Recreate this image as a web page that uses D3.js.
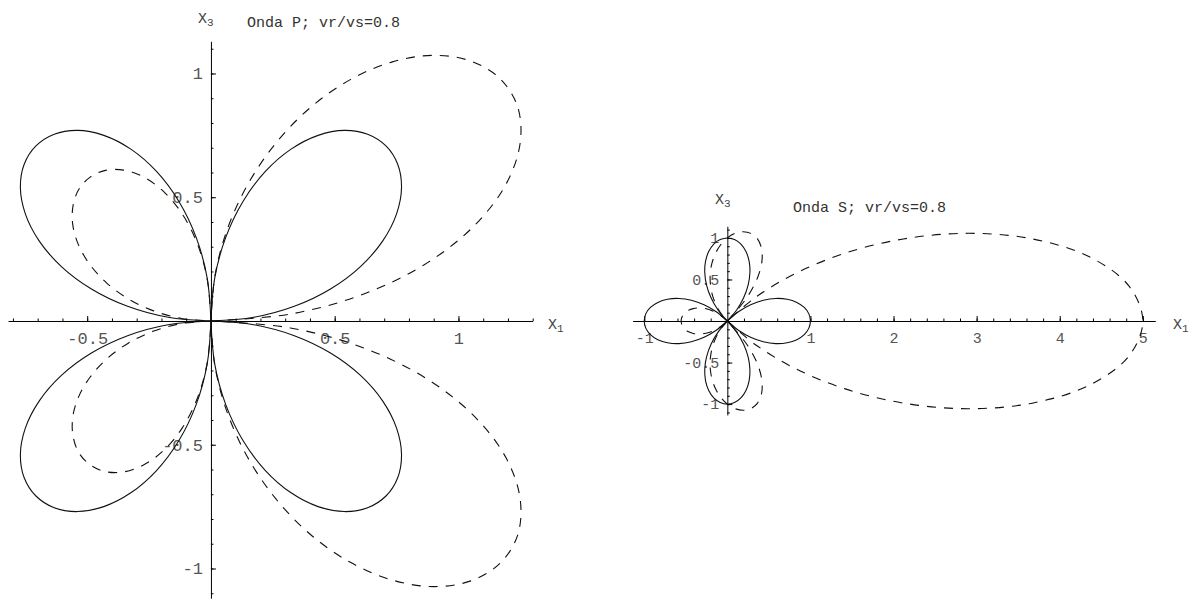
<!DOCTYPE html>
<html>
<head>
<meta charset="utf-8">
<script src="https://cdn.jsdelivr.net/npm/d3@7"></script>
<style>
  html, body { margin: 0; padding: 0; background: #fff; }
  svg { display: block; }
</style>
</head>
<body>
<svg id="chart" width="1199" height="599"></svg>
<script>
// Sampling angles (degrees, measured from +X1 towards +X3)
const angles = [
  0, 5, 10, 15, 20, 25, 30, 35, 40, 45, 50, 55, 60, 65, 70, 75, 80, 85,
  90, 95, 100, 105, 110, 115, 120, 125, 130, 135, 140, 145, 150, 155, 160, 165, 170, 175,
  180, 185, 190, 195, 200, 205, 210, 215, 220, 225, 230, 235, 240, 245, 250, 255, 260, 265,
  270, 275, 280, 285, 290, 295, 300, 305, 310, 315, 320, 325, 330, 335, 340, 345, 350, 355
];

// P wave: static radiation pattern (solid) and pattern with rupture directivity (dashed)
const pStatic = [
  0, 0.174, 0.342, 0.5, 0.643, 0.766, 0.866, 0.940, 0.985, 1, 0.985, 0.940, 0.866, 0.766, 0.643, 0.5, 0.342, 0.174,
  0, 0.174, 0.342, 0.5, 0.643, 0.766, 0.866, 0.940, 0.985, 1, 0.985, 0.940, 0.866, 0.766, 0.643, 0.5, 0.342, 0.174,
  0, 0.174, 0.342, 0.5, 0.643, 0.766, 0.866, 0.940, 0.985, 1, 0.985, 0.940, 0.866, 0.766, 0.643, 0.5, 0.342, 0.174,
  0, 0.174, 0.342, 0.5, 0.643, 0.766, 0.866, 0.940, 0.985, 1, 0.985, 0.940, 0.866, 0.766, 0.643, 0.5, 0.342, 0.174
];
const pMoving = [
  0, 0.322, 0.627, 0.903, 1.136, 1.318, 1.443, 1.512, 1.524, 1.485, 1.401, 1.278, 1.126, 0.952, 0.763, 0.568, 0.372, 0.181,
  0, 0.167, 0.317, 0.447, 0.555, 0.641, 0.704, 0.743, 0.759, 0.754, 0.727, 0.682, 0.619, 0.540, 0.448, 0.346, 0.235, 0.119,
  0, 0.119, 0.235, 0.346, 0.448, 0.540, 0.619, 0.682, 0.727, 0.754, 0.759, 0.743, 0.704, 0.641, 0.555, 0.447, 0.317, 0.167,
  0, 0.181, 0.372, 0.568, 0.763, 0.952, 1.126, 1.278, 1.401, 1.485, 1.524, 1.512, 1.443, 1.318, 1.136, 0.903, 0.627, 0.322
];

// S wave: static radiation pattern (solid) and pattern with rupture directivity (dashed)
const sStatic = [
  1, 0.985, 0.940, 0.866, 0.766, 0.643, 0.5, 0.342, 0.174, 0, 0.174, 0.342, 0.5, 0.643, 0.766, 0.866, 0.940, 0.985,
  1, 0.985, 0.940, 0.866, 0.766, 0.643, 0.5, 0.342, 0.174, 0, 0.174, 0.342, 0.5, 0.643, 0.766, 0.866, 0.940, 0.985,
  1, 0.985, 0.940, 0.866, 0.766, 0.643, 0.5, 0.342, 0.174, 0, 0.174, 0.342, 0.5, 0.643, 0.766, 0.866, 0.940, 0.985,
  1, 0.985, 0.940, 0.866, 0.766, 0.643, 0.5, 0.342, 0.174, 0, 0.174, 0.342, 0.5, 0.643, 0.766, 0.866, 0.940, 0.985
];
const sMoving = [
  5.000, 4.850, 4.430, 3.811, 3.086, 2.338, 1.628, 0.992, 0.448, 0, 0.357, 0.632, 0.833, 0.971, 1.055, 1.092, 1.091, 1.059,
  1.000, 0.921, 0.825, 0.718, 0.602, 0.480, 0.357, 0.234, 0.115, 0, 0.108, 0.207, 0.295, 0.373, 0.437, 0.489, 0.526, 0.548,
  0.556, 0.548, 0.526, 0.489, 0.437, 0.373, 0.295, 0.207, 0.108, 0, 0.115, 0.234, 0.357, 0.480, 0.602, 0.718, 0.825, 0.921,
  1.000, 1.059, 1.091, 1.092, 1.055, 0.971, 0.833, 0.632, 0.357, 0, 0.448, 0.992, 1.628, 2.338, 3.086, 3.811, 4.430, 4.850
];

// Titles and axis ticks
const pTitle = "Onda P; vr/vs=0.8";
const sTitle = "Onda S; vr/vs=0.8";
const pXMajor = [-0.5, 0.5, 1];
const pXMinor = [-0.8, -0.7, -0.6, -0.5, -0.4, -0.3, -0.2, -0.1, 0.1, 0.2, 0.3, 0.4, 0.5, 0.6, 0.7, 0.8, 0.9, 1, 1.1, 1.2, 1.3];
const pYMajor = [-1, -0.5, 0.5, 1];
const pYMinor = [-1.1, -1, -0.9, -0.8, -0.7, -0.6, -0.5, -0.4, -0.3, -0.2, -0.1, 0.1, 0.2, 0.3, 0.4, 0.5, 0.6, 0.7, 0.8, 0.9, 1, 1.1];
const sXMajor = [-1, 1, 2, 3, 4, 5];
const sXMinor = [-1, -0.8, -0.6, -0.4, -0.2, 0.2, 0.4, 0.6, 0.8, 1, 1.2, 1.4, 1.6, 1.8, 2, 2.2, 2.4, 2.6, 2.8, 3,
                 3.2, 3.4, 3.6, 3.8, 4, 4.2, 4.4, 4.6, 4.8, 5];
const sYMajor = [-1, -0.5, 0.5, 1];
const sYMinor = [-1.1, -1, -0.9, -0.8, -0.7, -0.6, -0.5, -0.4, -0.3, -0.2, -0.1, 0.1, 0.2, 0.3, 0.4, 0.5, 0.6, 0.7, 0.8, 0.9, 1, 1.1];

const svg = d3.select("#chart");
const MONO = "'Liberation Mono', 'DejaVu Sans Mono', monospace";

const panels = [
  {
    title: pTitle, solid: pStatic, dashed: pMoving,
    xDomain: [-0.82, 1.30], xRange: [8, 532.7],
    yDomain: [-1.12, 1.13], yRange: [598.2, 41.3],
    xMajor: pXMajor, xMinor: pXMinor, yMajor: pYMajor, yMinor: pYMinor,
    tickFont: 17, titleFont: 15,
    titlePos: [247, 27], x3Pos: [198, 23], x1Pos: [548, 329]
  },
  {
    title: sTitle, solid: sStatic, dashed: sMoving,
    xDomain: [-1.14, 5.15], xRange: [632.6, 1155.3],
    yDomain: [-1.13, 1.14], yRange: [414.9, 226.3],
    xMajor: sXMajor, xMinor: sXMinor, yMajor: sYMajor, yMinor: sYMinor,
    tickFont: 15, titleFont: 15,
    titlePos: [793, 212], x3Pos: [715, 204], x1Pos: [1173, 329]
  }
];

const fmt = d => String(d);

panels.forEach(p => {
  const x = d3.scaleLinear().domain(p.xDomain).range(p.xRange);
  const y = d3.scaleLinear().domain(p.yDomain).range(p.yRange);
  const g = svg.append("g");

  // Horizontal axis: minor and major ticks point upward, labels below
  const xg = g.append("g").attr("transform", `translate(0,${y(0)})`);
  xg.append("g").call(d3.axisBottom(x).tickValues(p.xMinor).tickSize(-2.5).tickSizeOuter(0).tickFormat(""));
  xg.append("g").call(d3.axisBottom(x).tickValues(p.xMajor).tickSize(-5).tickSizeOuter(0).tickPadding(11).tickFormat(fmt))
    .call(a => a.select(".domain").remove());

  // Vertical axis: ticks point right, labels on the left
  const yg = g.append("g").attr("transform", `translate(${x(0)},0)`);
  yg.append("g").call(d3.axisLeft(y).tickValues(p.yMinor).tickSize(-2.5).tickSizeOuter(0).tickFormat(""));
  yg.append("g").call(d3.axisLeft(y).tickValues(p.yMajor).tickSize(-5).tickSizeOuter(0).tickPadding(8).tickFormat(fmt))
    .call(a => a.select(".domain").remove());

  g.selectAll(".domain, .tick line").attr("stroke", "#000").attr("stroke-width", 1);
  g.selectAll(".tick text")
    .attr("font-family", MONO).attr("font-size", p.tickFont).attr("fill", "#555");

  // Radiation patterns, drawn lobe by lobe so the cusps at the origin stay sharp
  const pts = r => angles.map((a, i) => ({ a: a * Math.PI / 180, r: r[i] }));
  const lobes = list => {
    const out = [];
    let cur = [];
    const n = list.length;
    let start = list.findIndex(d => d.r === 0);
    if (start < 0) start = 0;
    for (let k = 0; k <= n; k++) {
      const d = list[(start + k) % n];
      cur.push(d);
      if (d.r === 0 && cur.length > 1) { out.push(cur); cur = [d]; }
    }
    if (cur.length > 1) out.push(cur);
    return out;
  };
  const line = d3.line()
    .x(d => x(d.r * Math.cos(d.a)))
    .y(d => y(d.r * Math.sin(d.a)))
    .curve(d3.curveCatmullRom.alpha(0.5));

  g.append("g").selectAll("path").data(lobes(pts(p.solid))).join("path")
    .attr("d", line).attr("fill", "none").attr("stroke", "#111").attr("stroke-width", 1.1);
  g.append("g").selectAll("path").data(lobes(pts(p.dashed))).join("path")
    .attr("d", line).attr("fill", "none").attr("stroke", "#111").attr("stroke-width", 1.1)
    .attr("stroke-dasharray", "9,8");

  // Axis names and title
  const x3 = g.append("text").attr("x", p.x3Pos[0]).attr("y", p.x3Pos[1])
    .attr("font-family", MONO).attr("font-size", 15).attr("fill", "#444");
  x3.append("tspan").text("X");
  x3.append("tspan").attr("dy", 3).attr("font-size", 11).text("3");

  const x1 = g.append("text").attr("x", p.x1Pos[0]).attr("y", p.x1Pos[1])
    .attr("font-family", MONO).attr("font-size", 15).attr("fill", "#444");
  x1.append("tspan").text("X");
  x1.append("tspan").attr("dy", 3).attr("font-size", 11).text("1");

  g.append("text").attr("x", p.titlePos[0]).attr("y", p.titlePos[1])
    .attr("font-family", MONO).attr("font-size", p.titleFont).attr("fill", "#333")
    .attr("xml:space", "preserve")
    .text(p.title);
});
</script>
</body>
</html>
